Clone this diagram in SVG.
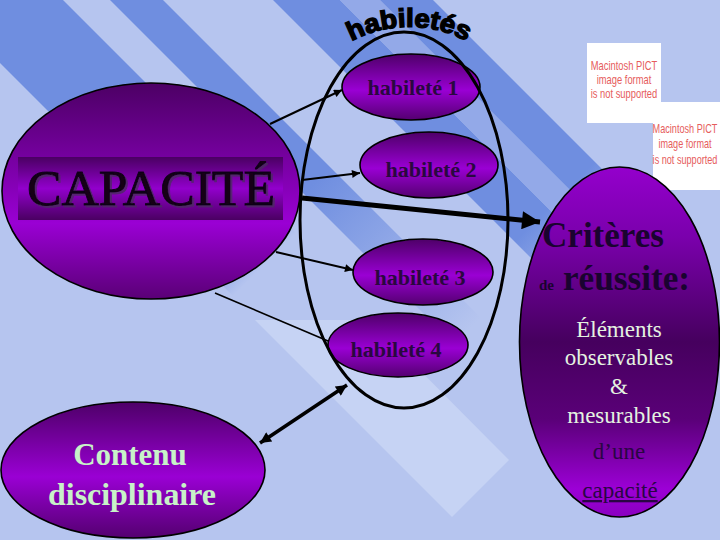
<svg xmlns="http://www.w3.org/2000/svg" xmlns:xlink="http://www.w3.org/1999/xlink" width="720" height="540" viewBox="0 0 720 540">
<defs>
<linearGradient id="gNode" x1="0" y1="0" x2="0" y2="1">
<stop offset="0" stop-color="#4E0068"/>
<stop offset="0.55" stop-color="#9A00D4"/>
<stop offset="1" stop-color="#540070"/>
</linearGradient>
<linearGradient id="gCap" x1="0" y1="0" x2="0" y2="1">
<stop offset="0" stop-color="#4C0064"/>
<stop offset="0.65" stop-color="#9A00D4"/>
<stop offset="1" stop-color="#5A0076"/>
</linearGradient>
<linearGradient id="gBar" x1="0" y1="0" x2="0" y2="1">
<stop offset="0" stop-color="#4A0062"/>
<stop offset="0.5" stop-color="#9200CC"/>
<stop offset="1" stop-color="#4A0062"/>
</linearGradient>
<linearGradient id="gCrit" x1="0" y1="0" x2="0" y2="1">
<stop offset="0" stop-color="#9400CC"/>
<stop offset="0.2" stop-color="#7A00AC"/>
<stop offset="0.5" stop-color="#46005E"/>
<stop offset="0.72" stop-color="#5A0078"/>
<stop offset="0.92" stop-color="#9C00D6"/>
<stop offset="1" stop-color="#8A00C0"/>
</linearGradient>
<linearGradient id="gS1" gradientUnits="userSpaceOnUse" x1="0" y1="0" x2="540" y2="540">
<stop offset="0.42" stop-color="#6F8EE0"/>
<stop offset="0.49" stop-color="#B6C5EF"/>
</linearGradient>
<linearGradient id="gS2" gradientUnits="userSpaceOnUse" x1="0" y1="0" x2="540" y2="540">
<stop offset="0.46" stop-color="#6F8EE0"/>
<stop offset="0.74" stop-color="#B6C5EF"/>
</linearGradient>
<linearGradient id="gS3" gradientUnits="userSpaceOnUse" x1="0" y1="0" x2="540" y2="540">
<stop offset="0.70" stop-color="#6F8EE0"/>
<stop offset="0.83" stop-color="#B6C5EF"/>
</linearGradient>
<linearGradient id="gS3m" gradientUnits="userSpaceOnUse" x1="0" y1="0" x2="540" y2="540">
<stop offset="0.70" stop-color="#93A9E8"/>
<stop offset="0.83" stop-color="#B6C5EF"/>
</linearGradient>
<filter id="shadow" x="-5%" y="-10%" width="115%" height="130%">
<feDropShadow dx="2" dy="2" stdDeviation="0.6" flood-color="#4A2A60" flood-opacity="0.8"/>
</filter>
<marker id="ah" viewBox="0 0 10 10" refX="10" refY="5" markerWidth="11" markerHeight="8" markerUnits="userSpaceOnUse" orient="auto"><path d="M0,0 L10,5 L0,10 z" fill="#000"/></marker>
<marker id="ahBig" viewBox="0 0 10 10" refX="10" refY="5" markerWidth="24" markerHeight="18" markerUnits="userSpaceOnUse" orient="auto"><path d="M0,0 L10,5 L0,10 z" fill="#000"/></marker>
<marker id="ahDbl" viewBox="0 0 10 10" refX="10" refY="5" markerWidth="15" markerHeight="11" markerUnits="userSpaceOnUse" orient="auto-start-reverse"><path d="M0,0 L10,5 L0,10 z" fill="#000"/></marker>
<path id="arcTitle" d="M 340 48 A 123 123 0 0 1 478 48"/>
</defs>
<style>
.bg{fill:#B6C5EF}
.light{fill:#C6D3F4}
.node{stroke:#000;stroke-width:1.6}
.hab{font-family:"Liberation Serif","Times New Roman",serif;font-weight:bold;font-size:22px;fill:#2A0840;text-anchor:middle}
.pale{font-family:"Liberation Serif","Times New Roman",serif;font-size:23px;fill:#E4F2E0;text-anchor:middle}
.dark{font-family:"Liberation Serif","Times New Roman",serif;font-size:23px;fill:#2A0644;text-anchor:middle}
.crit{font-family:"Liberation Serif","Times New Roman",serif;font-weight:bold;font-size:35px;fill:#1A0330}
.pict{fill:#fff}
.pictText{font-family:"Liberation Sans",Arial,sans-serif;font-size:12px;fill:#E65C5C;text-anchor:middle}
.conn{stroke:#000;fill:none}
</style>

<g id="background">
<rect class="bg" x="0" y="0" width="720" height="540"/>
<polygon fill="url(#gS1)" points="-63,0 63,0 603,540 477,540"/>
<polygon fill="url(#gS2)" points="110,0 163,0 703,540 650,540"/>
<polygon fill="url(#gS3)" points="273,0 340,0 880,540 813,540"/>
<polygon fill="url(#gS3m)" points="340,0 380,0 920,540 880,540"/>
<polygon fill="url(#gS3)" points="380,0 433,0 973,540 920,540"/>
<polygon class="light" points="255,320 452,517 509,460 370,320"/>
</g>

<g id="pict1">
<rect class="pict" x="587" y="43" width="74" height="80"/>
<text class="pictText" transform="translate(624,70) scale(0.78,1)">Macintosh PICT</text>
<text class="pictText" transform="translate(624,84) scale(0.78,1)">image format</text>
<text class="pictText" transform="translate(624,98) scale(0.78,1)">is not supported</text>
</g>
<g id="pict2">
<rect class="pict" x="653" y="102" width="67" height="88"/>
<text class="pictText" transform="translate(685,133) scale(0.76,1)">Macintosh PICT</text>
<text class="pictText" transform="translate(685,148) scale(0.76,1)">image format</text>
<text class="pictText" transform="translate(685,164) scale(0.76,1)">is not supported</text>
</g>

<g id="capacite">
<ellipse class="node" cx="151" cy="191" rx="149" ry="108" fill="url(#gCap)"/>
<rect x="18" y="157" width="265" height="63" fill="url(#gBar)"/>
<text x="151" y="205" font-family="'Liberation Serif','Times New Roman',serif" font-size="50" fill="#120016" stroke="#120016" stroke-width="0.8" text-anchor="middle" textLength="248" lengthAdjust="spacingAndGlyphs" filter="url(#shadow)">CAPACITÉ</text>
</g>

<g id="habilete1">
<ellipse class="node" cx="411" cy="87" rx="69" ry="33" fill="url(#gNode)"/>
<text class="hab" x="413" y="95">habileté 1</text>
</g>
<g id="habilete2">
<ellipse class="node" cx="429" cy="165" rx="69" ry="33" fill="url(#gNode)"/>
<text class="hab" x="431" y="177">habileté 2</text>
</g>
<g id="habilete3">
<ellipse class="node" cx="423" cy="272" rx="70" ry="33" fill="url(#gNode)"/>
<text class="hab" x="420" y="285">habileté 3</text>
</g>
<g id="habilete4">
<ellipse class="node" cx="398" cy="345" rx="70" ry="32" fill="url(#gNode)"/>
<text class="hab" x="396" y="357">habileté 4</text>
</g>

<g id="habiletes">
<ellipse cx="404" cy="220" rx="104" ry="188" fill="none" stroke="#000" stroke-width="3"/>
<text font-family="'Liberation Sans',Arial,sans-serif" font-weight="bold" font-size="26" fill="#000" stroke="#000" stroke-width="1.4" text-anchor="middle"><textPath xlink:href="#arcTitle" href="#arcTitle" startOffset="50%" textLength="120" lengthAdjust="spacingAndGlyphs">habiletés</textPath></text>
</g>

<g id="criteres">
<ellipse class="node" cx="619.5" cy="342" rx="100" ry="175" fill="url(#gCrit)"/>
<text class="crit" x="542" y="247" textLength="122" lengthAdjust="spacingAndGlyphs">Critères</text>
<text x="539" y="290" font-family="'Liberation Serif','Times New Roman',serif" font-weight="bold" font-size="15" fill="#1A0330">de</text>
<text class="crit" x="563" y="290" textLength="127" lengthAdjust="spacingAndGlyphs">réussite:</text>
<text class="pale" x="619" y="337">Éléments</text>
<text class="pale" x="619" y="365">observables</text>
<text class="pale" x="619" y="394">&amp;</text>
<text class="pale" x="619" y="423">mesurables</text>
<text class="dark" x="619" y="459">d’une</text>
<text class="dark" x="620" y="498" text-decoration="underline">capacité</text>
</g>

<g id="contenu">
<ellipse class="node" cx="133" cy="470" rx="132" ry="68" fill="url(#gNode)"/>
<text x="130" y="465" font-family="'Liberation Serif','Times New Roman',serif" font-weight="bold" font-size="31" fill="#C8F2C8" text-anchor="middle">Contenu</text>
<text x="132" y="505" font-family="'Liberation Serif','Times New Roman',serif" font-weight="bold" font-size="31" fill="#C8F2C8" text-anchor="middle" textLength="168" lengthAdjust="spacingAndGlyphs">disciplinaire</text>
</g>

<g id="connectors">
<line class="conn" x1="270" y1="124" x2="342" y2="90" stroke-width="2" marker-end="url(#ah)"/>
<line class="conn" x1="302" y1="180" x2="360" y2="173" stroke-width="2" marker-end="url(#ah)"/>
<line class="conn" x1="302" y1="198" x2="540" y2="222" stroke-width="5" marker-end="url(#ahBig)"/>
<line class="conn" x1="276" y1="252" x2="353" y2="270" stroke-width="2" marker-end="url(#ah)"/>
<line class="conn" x1="215" y1="293" x2="328" y2="341" stroke-width="1.6"/>
<line class="conn" x1="260" y1="443" x2="347" y2="385" stroke-width="3.5" marker-start="url(#ahDbl)" marker-end="url(#ahDbl)"/>
</g>
</svg>
